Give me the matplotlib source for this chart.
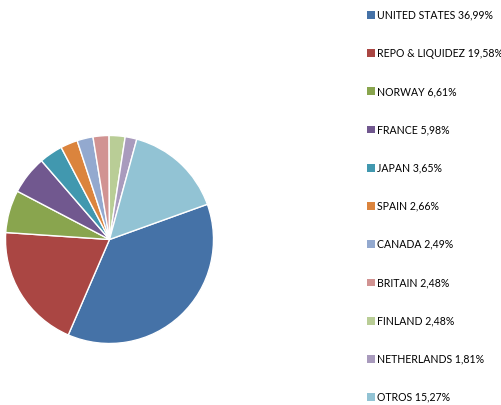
import matplotlib
matplotlib.use("Agg")
import matplotlib.pyplot as plt

categories = ["UNITED STATES", "REPO & LIQUIDEZ", "NORWAY", "FRANCE", "JAPAN",
              "SPAIN", "CANADA", "BRITAIN", "FINLAND", "NETHERLANDS", "OTROS"]
values = [36.99, 19.58, 6.61, 5.98, 3.65, 2.66, 2.49, 2.48, 2.48, 1.81, 15.27]
colors = ["#4572A7", "#AA4643", "#89A54E", "#71588F", "#4198AF", "#DB843D",
          "#93A9CF", "#D19392", "#B9CD96", "#A99BBD", "#92C3D4"]

plt.rcParams['font.family'] = ['Lato', 'DejaVu Sans']

W, H = 502, 405
fig = plt.figure(figsize=(W / 100, H / 100), dpi=100)
cx, cy, r = 109.5, 405 - 239.5, 104
ax = fig.add_axes([(cx - r) / W, (cy - r) / H, 2 * r / W, 2 * r / H])
wedges, _ = ax.pie(values, colors=colors, startangle=19.8, counterclock=False,
                   wedgeprops=dict(edgecolor="white", linewidth=1.0))
ax.set_aspect("equal")
ax.set_xlim(-1, 1)
ax.set_ylim(-1, 1)

labels = [f"{c} {v:.2f}%".replace(".", ",") for c, v in zip(categories, values)]
leg = fig.legend(wedges, labels, loc="upper left", bbox_to_anchor=(367 / W, 1 - 9.5 / H),
                 frameon=False, fontsize=7.6, handlelength=0.76, handleheight=0.76,
                 handletextpad=0.22, labelspacing=2.58, borderaxespad=0, borderpad=0)
for h in leg.legend_handles:
    h.set_edgecolor("none")

fig.savefig("out.png", dpi=100)
